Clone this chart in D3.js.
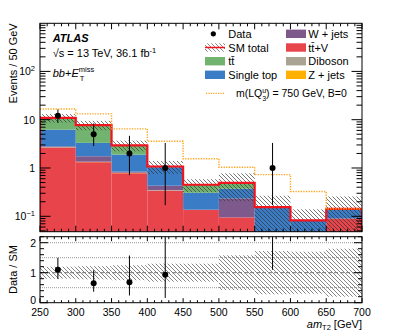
<!DOCTYPE html>
<html><head><meta charset="utf-8">
<script src="https://cdn.jsdelivr.net/npm/d3@7"></script>
<style>body{margin:0;background:#fff}svg{display:block;font-family:"Liberation Sans",Arial,Helvetica,sans-serif}</style>
</head><body><svg id="c" width="407" height="335"></svg>
<script>
// ---------- data ----------
const binLow   = [250, 300, 350, 400, 450, 500, 550, 600, 650];
const binWidth = 50;
const ttV      = [2.65, 1.32, 0.78, 0.34, 0.137, 0.095, 0.03, 0.02, 0.09];
const zJets    = [0.02, 0.01, 0.01, 0.0, 0.0, 0.0, 0.0, 0.0, 0.0];
const diboson  = [0.03, 0.02, 0.01, 0.01, 0.0, 0.0, 0.0, 0.0, 0.0];
const wJets    = [0.10, 0.40, 0.04, 0.08, 0.0, 0.14, 0.0, 0.0, 0.0];
const singleTop= [3.43, 1.56, 1.06, 0.61, 0.17, 0.137, 0.125, 0.062, 0.053];
const ttbar    = [4.67, 4.44, 1.05, 0.035, 0.143, 0.118, 0.0, 0.0, 0.0];
const relUnc   = [0.20, 0.22, 0.25, 0.30, 0.30, 0.58, 0.72, 0.70, 0.80];
const signalTotal = [16.7, 13.2, 6.45, 3.58, 1.55, 1.04, 0.73, 0.327, 0.143];
const dataCounts = [12, 5, 2, 1, 0, 0, 1, 0, 0];
const dataLow    = [8.6, 2.84, 0.71, 0.17, 0, 0, 0.17, 0, 0];
const dataHigh   = [16.3, 8.38, 4.64, 3.30, 0, 0, 3.30, 0, 0];
const xTicks = [250, 300, 350, 400, 450, 500, 550, 600, 650, 700];
const yTicksMain = [0.1, 1, 10, 100];
const yTickLabels = [["10","−1"], ["1",""], ["10",""], ["10","2"]];
const yTicksRatio = [0, 1, 2];
const ratioGrid = [0.5, 1.5, 2.0];

const keys = ["ttV","zJets","diboson","wJets","singleTop","ttbar"];
const colors = {ttV:"#e8444b", zJets:"#ffb000", diboson:"#a8a393", wJets:"#7e5a8c", singleTop:"#3a7cc6", ttbar:"#72b46f"};
const table = binLow.map((b,i)=>({bin:b, ttV:ttV[i], zJets:zJets[i], diboson:diboson[i], wJets:wJets[i], singleTop:singleTop[i], ttbar:ttbar[i]}));
const total = table.map(d=>keys.reduce((s,k)=>s+d[k],0));

// ---------- layout ----------
const svg = d3.select("#c");
const L=40, R=362, mT=23.3, mB=231.7, rT=236.7, rB=302.7;
const x = d3.scaleLinear().domain([250,700]).range([L,R]);
const y = d3.scaleLog().domain([0.048, 990]).range([mB,mT]);
const yr = d3.scaleLinear().domain([0,2.2]).range([rB,rT]);

const defs = svg.append("defs");
const pat = defs.append("pattern").attr("id","hatch").attr("patternUnits","userSpaceOnUse").attr("width",4).attr("height",4);
pat.append("path").attr("d","M-1,-1L5,5M3,-1L5,1M-1,3L1,5").attr("stroke","#333").attr("stroke-width",0.9).attr("stroke-opacity",0.75);
const pat2 = defs.append("pattern").attr("id","hatchR").attr("patternUnits","userSpaceOnUse").attr("width",4).attr("height",4);
pat2.append("path").attr("d","M-1,-1L5,5M3,-1L5,1M-1,3L1,5").attr("stroke","#777").attr("stroke-width",0.9);
defs.append("clipPath").attr("id","cm").append("rect").attr("x",L).attr("y",mT).attr("width",R-L).attr("height",mB-mT);
defs.append("clipPath").attr("id","cr").append("rect").attr("x",L).attr("y",rT).attr("width",R-L).attr("height",rB-rT);

// ---------- main panel ----------
const gm = svg.append("g").attr("clip-path","url(#cm)");
const series = d3.stack().keys(keys)(table);
series.forEach(s=>{
  gm.append("g").selectAll("rect").data(s).join("rect")
    .attr("x",d=>x(d.data.bin)).attr("width",d=>x(d.data.bin+binWidth)-x(d.data.bin))
    .attr("y",d=>y(Math.max(d[1],1e-4))).attr("height",d=>Math.max(0,y(Math.max(d[0],1e-4))-y(Math.max(d[1],1e-4))))
    .attr("fill",colors[s.key]);
});
gm.append("g").selectAll("rect").data(binLow).join("rect")
  .attr("x",b=>x(b)).attr("width",b=>x(b+binWidth)-x(b))
  .attr("y",(b,i)=>y(total[i]*(1+relUnc[i])))
  .attr("height",(b,i)=>y(Math.max(total[i]*(1-relUnc[i]),1e-4))-y(total[i]*(1+relUnc[i])))
  .attr("fill","url(#hatch)");
function stepPts(vals, closeEdges){
  const pts=[];
  if(closeEdges) pts.push([x(binLow[0]), mB+2]);
  vals.forEach((v,i)=>{pts.push([x(binLow[i]), y(v)]); pts.push([x(binLow[i]+binWidth), y(v)]);});
  if(closeEdges) pts.push([x(binLow[binLow.length-1]+binWidth), mB+2]);
  return pts;
}
gm.append("path").attr("d",d3.line()(stepPts(total,true))).attr("fill","none").attr("stroke","#f0141e").attr("stroke-width",2.2);
gm.append("path").attr("d",d3.line()(stepPts(signalTotal,false))).attr("fill","none").attr("stroke","#ffa31a").attr("stroke-width",1.4).attr("stroke-dasharray","1.3,1.3");
const gd = gm.append("g");
binLow.forEach((b,i)=>{
  if(dataCounts[i]<=0) return;
  const cx = x(b+binWidth/2);
  gd.append("line").attr("x1",cx).attr("x2",cx).attr("y1",y(dataHigh[i])).attr("y2",y(dataLow[i])).attr("stroke","#000").attr("stroke-width",1);
  gd.append("circle").attr("cx",cx).attr("cy",y(dataCounts[i])).attr("r",3).attr("fill","#000");
});

const ax = svg.append("g").attr("stroke","#000").attr("stroke-width",1);
ax.append("rect").attr("x",L).attr("y",mT).attr("width",R-L).attr("height",mB-mT).attr("fill","none");
for(let v=250; v<=700; v+=10){
  const len = (v%50===0)?6:3;
  ax.append("line").attr("x1",x(v)).attr("x2",x(v)).attr("y1",mB).attr("y2",mB-len);
  ax.append("line").attr("x1",x(v)).attr("x2",x(v)).attr("y1",mT).attr("y2",mT+len);
}
for(let e=-2; e<=2; e++){
  for(let m=1; m<=9; m++){
    const v = m*Math.pow(10,e);
    if(v<y.domain()[0]||v>y.domain()[1]) continue;
    const len = m===1?10.5:5.5;
    ax.append("line").attr("x1",L).attr("x2",L+len).attr("y1",y(v)).attr("y2",y(v));
    ax.append("line").attr("x1",R).attr("x2",R-len).attr("y1",y(v)).attr("y2",y(v));
  }
}
yTicksMain.forEach((v,i)=>{
  const t = svg.append("text").attr("x",35).attr("y",y(v)+4).attr("text-anchor","end").attr("font-size",10.5);
  t.append("tspan").text(yTickLabels[i][0]);
  if(yTickLabels[i][1]) t.append("tspan").attr("dy",-4.5).attr("font-size",7.5).text(yTickLabels[i][1]);
});
svg.append("text").attr("transform",`translate(16.5,${mT}) rotate(-90)`).attr("text-anchor","end").attr("font-size",11).text("Events / 50 GeV");

// ---------- ratio panel ----------
const gr = svg.append("g").attr("clip-path","url(#cr)");
gr.append("g").selectAll("rect").data(binLow).join("rect")
  .attr("x",b=>x(b)).attr("width",b=>x(b+binWidth)-x(b))
  .attr("y",(b,i)=>yr(1+relUnc[i])).attr("height",(b,i)=>yr(1-relUnc[i])-yr(1+relUnc[i]))
  .attr("fill","url(#hatchR)");
ratioGrid.forEach(v=>gr.append("line").attr("x1",L).attr("x2",R).attr("y1",yr(v)).attr("y2",yr(v)).attr("stroke","#999").attr("stroke-width",1).attr("stroke-dasharray","1,1"));
gr.append("line").attr("x1",L).attr("x2",R).attr("y1",yr(1)).attr("y2",yr(1)).attr("stroke","#777").attr("stroke-width",1).attr("stroke-dasharray","4,2");
binLow.forEach((b,i)=>{
  if(dataCounts[i]<=0) return;
  const cx = x(b+binWidth/2);
  gr.append("line").attr("x1",cx).attr("x2",cx).attr("y1",yr(dataHigh[i]/total[i])).attr("y2",yr(dataLow[i]/total[i])).attr("stroke","#000").attr("stroke-width",1);
  gr.append("circle").attr("cx",cx).attr("cy",yr(dataCounts[i]/total[i])).attr("r",3).attr("fill","#000");
});
const axr = svg.append("g").attr("stroke","#000").attr("stroke-width",1);
axr.append("rect").attr("x",L).attr("y",rT).attr("width",R-L).attr("height",rB-rT).attr("fill","none");
for(let v=250; v<=700; v+=10){
  const len = (v%50===0)?4.5:2.5;
  axr.append("line").attr("x1",x(v)).attr("x2",x(v)).attr("y1",rB).attr("y2",rB-len);
  axr.append("line").attr("x1",x(v)).attr("x2",x(v)).attr("y1",rT).attr("y2",rT+len);
}
for(let k=0; k<=11; k++){
  const v=k*0.2; const len = (k%5===0)?8:4;
  axr.append("line").attr("x1",L).attr("x2",L+len).attr("y1",yr(v)).attr("y2",yr(v));
  axr.append("line").attr("x1",R).attr("x2",R-len).attr("y1",yr(v)).attr("y2",yr(v));
}
yTicksRatio.forEach(v=>svg.append("text").attr("x",36).attr("y",v===0?yr(v)+1.5:yr(v)+4).attr("text-anchor","end").attr("font-size",10.5).text(v));
xTicks.forEach(v=>svg.append("text").attr("x",x(v)).attr("y",316).attr("text-anchor","middle").attr("font-size",10.5).text(v));
svg.append("text").attr("transform",`translate(16.5,269.5) rotate(-90)`).attr("text-anchor","middle").attr("font-size",11).text("Data / SM");
const xt = svg.append("text").attr("x",R).attr("y",327.5).attr("text-anchor","end").attr("font-size",11);
xt.append("tspan").attr("font-style","italic").text("am");
xt.append("tspan").attr("dy",2.5).attr("font-size",7.5).text("T2");
xt.append("tspan").attr("dy",-2.5).text(" [GeV]");

// ---------- labels ----------
svg.append("text").attr("x",52.7).attr("y",41.5).attr("font-size",11).attr("font-weight","bold").attr("font-style","italic").text("ATLAS");
const t2 = svg.append("text").attr("x",52.7).attr("y",57.3).attr("font-size",11);
t2.append("tspan").text("√s = 13 TeV, 36.1 fb");
t2.append("tspan").attr("dy",-4.5).attr("font-size",7.5).text("-1");
const t3 = svg.append("text").attr("x",52.7).attr("y",77).attr("font-size",11);
t3.append("tspan").attr("font-style","italic").text("bb");
t3.append("tspan").text("+");
t3.append("tspan").attr("font-style","italic").text("E");
t3.append("tspan").attr("dy",-5.5).attr("font-size",7.5).text("miss");
t3.append("tspan").attr("dx",-14.5).attr("dy",9).attr("font-size",7.5).text("T");

// ---------- legend ----------
const lg = svg.append("g").attr("font-size",11);
const rows = [33.8, 47.5, 61.2, 74.8];
lg.append("circle").attr("cx",213.3).attr("cy",rows[0]).attr("r",2.6).attr("fill","#000");
lg.append("text").attr("x",228.3).attr("y",rows[0]+4).text("Data");
lg.append("rect").attr("x",205).attr("y",rows[1]-4.2).attr("width",20).attr("height",8.4).attr("fill","url(#hatchR)");
lg.append("line").attr("x1",205).attr("x2",225).attr("y1",rows[1]).attr("y2",rows[1]).attr("stroke","#f0141e").attr("stroke-width",1.5);
lg.append("text").attr("x",228.3).attr("y",rows[1]+4).text("SM total");
const legItems = [
  {key:"ttbar", label:"tt\u0304", col:0, row:2},
  {key:"singleTop", label:"Single top", col:0, row:3},
  {key:"wJets", label:"W + jets", col:1, row:0},
  {key:"ttV", label:"tt\u0304+V", col:1, row:1},
  {key:"diboson", label:"Diboson", col:1, row:2},
  {key:"zJets", label:"Z + jets", col:1, row:3}
];
legItems.forEach(it=>{
  const sx = it.col===0?205:286, tx = it.col===0?228.3:308.3;
  lg.append("rect").attr("x",sx).attr("y",rows[it.row]-4.2).attr("width",20).attr("height",8.4).attr("fill",colors[it.key]);
  lg.append("text").attr("x",tx).attr("y",rows[it.row]+4).text(it.label);
});
lg.append("line").attr("x1",206).attr("x2",225).attr("y1",93.3).attr("y2",93.3).attr("stroke","#ffa31a").attr("stroke-width",1.2).attr("stroke-dasharray","1.2,1.2");
const sl = lg.append("text").attr("x",236).attr("y",97.3).attr("font-size",10.5);
sl.append("tspan").text("m(LQ");
sl.append("tspan").attr("dy",-4).attr("font-size",7).text("u");
sl.append("tspan").attr("dx",-4).attr("dy",8).attr("font-size",7).text("3");
sl.append("tspan").attr("dy",-4).text(") = 750 GeV, B=0");
</script></body></html>
